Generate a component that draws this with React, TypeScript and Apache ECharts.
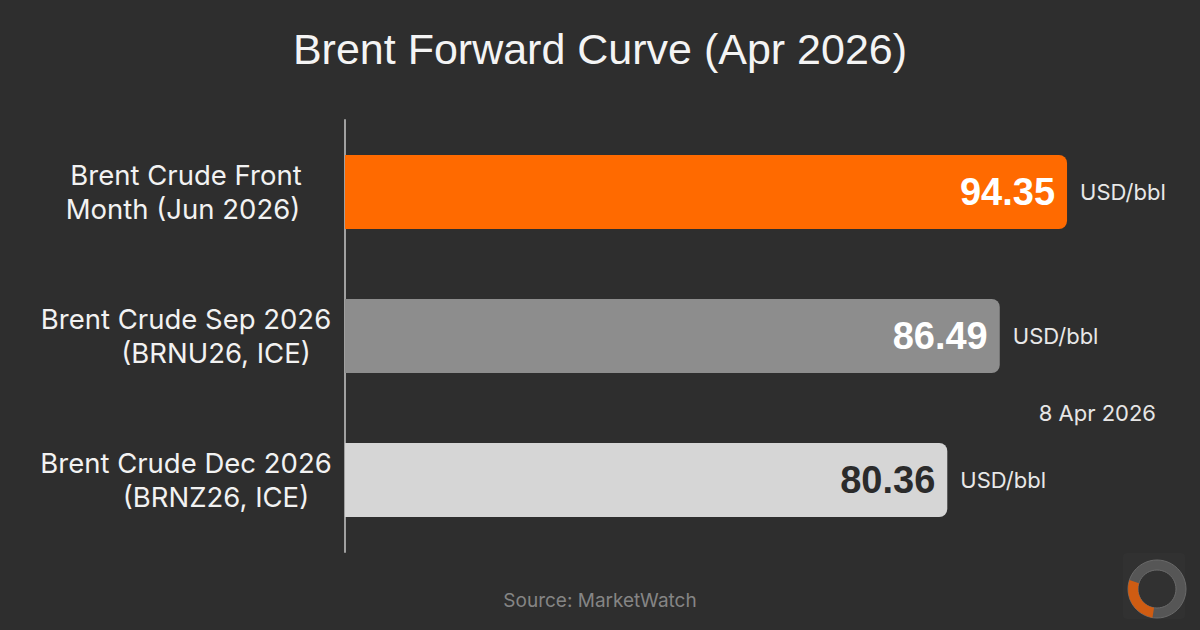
import React, { useEffect, useRef } from "react";
import * as echarts from "echarts";

const categories = [
  "Brent Crude Front\nMonth (Jun 2026)",
  "Brent Crude Sep 2026\n(BRNU26, ICE)",
  "Brent Crude Dec 2026\n(BRNZ26, ICE)",
];
const prices = [94.35, 86.49, 80.36];
const barColors = ["#ff6a00", "#8d8d8d", "#d6d6d6"];
const valueLabelColors = ["#ffffff", "#ffffff", "#2b2b2b"];
const unitLabel = "USD/bbl";
const titleText = "Brent Forward Curve (Apr 2026)";
const dateText = "8 Apr 2026";
const sourceText = "Source: MarketWatch";

export default function App() {
  const ref = useRef<HTMLDivElement>(null);

  useEffect(() => {
    if (!ref.current) return;
    const chart = echarts.init(ref.current, undefined, { renderer: "svg" });
    const font = "Inter, 'Liberation Sans', Arial, sans-serif";
    const labelText = { color: "#f2f2f2", fontSize: 27.5, lineHeight: 34, fontFamily: font };
    const option: any = {
      animation: false,
      backgroundColor: "#2e2e2e",
      title: [
        {
          text: titleText,
          left: "center",
          top: 22,
          textStyle: {
            color: "#f4f4f4",
            fontSize: 43,
            fontWeight: "normal",
            fontFamily: "'Liberation Sans', Arial, sans-serif",
          },
        },
        {
          text: dateText,
          right: 39,
          top: 397,
          textStyle: { color: "#e6e6e6", fontSize: 22, fontWeight: "normal", fontFamily: font },
        },
        {
          text: sourceText,
          left: "center",
          top: 586,
          textStyle: { color: "#858585", fontSize: 19, fontWeight: "normal", fontFamily: font },
        },
      ],
      grid: { left: 345, top: 120, height: 432, right: 84.6 },
      xAxis: {
        type: "value",
        min: 10,
        max: 100,
        show: false,
        splitLine: { show: false },
      },
      yAxis: {
        type: "category",
        inverse: true,
        data: categories,
        axisLine: { show: true, lineStyle: { color: "#a0a0a0", width: 2 } },
        axisTick: { show: false },
        axisLabel: {
          align: "center",
          margin: 159,
          ...labelText,
          formatter: (value: string, idx: number) => {
            const [l1, l2] = value.split("\n");
            if (idx === 0) return `{a|${l1}}\n{c|${l2}}`;
            return `{a|${l1}}\n{b|${l2}}`;
          },
          rich: {
            a: { ...labelText },
            b: { ...labelText, padding: [0, 0, 0, 60] },
            c: { ...labelText, padding: [0, 6, 0, 0] },
          },
        },
      },
      series: [
        {
          type: "bar",
          barWidth: 74,
          z: 3,
          data: prices.map((v, i) => ({
            value: v,
            itemStyle: { color: barColors[i], borderRadius: [0, 8, 8, 0] },
            label: { color: valueLabelColors[i] },
          })),
          label: {
            show: true,
            position: "insideRight",
            distance: 12,
            fontSize: 38,
            fontWeight: "bold",
            fontFamily: "'Liberation Sans', Arial, sans-serif",
            formatter: (p: any) => p.value.toFixed(2),
          },
        },
        {
          type: "bar",
          barWidth: 74,
          barGap: "-100%",
          z: 2,
          silent: true,
          data: prices,
          itemStyle: { color: "transparent" },
          label: {
            show: true,
            position: "right",
            distance: 13,
            color: "#e8e8e8",
            fontSize: 22,
            fontFamily: font,
            formatter: () => unitLabel,
          },
        },
      ],
      graphic: [
        {
          type: "rect",
          shape: { x: 1123, y: 553, width: 62, height: 66, r: 4 },
          style: { fill: "#313131" },
        },
        {
          type: "ring",
          shape: { cx: 1157, cy: 589, r: 29, r0: 19 },
          style: { fill: "#565656", stroke: "#6a6a6a", lineWidth: 1 },
        },
        {
          type: "sector",
          shape: {
            cx: 1157,
            cy: 589,
            r: 29,
            r0: 19,
            startAngle: Math.PI * 0.55,
            endAngle: Math.PI * 1.1,
            clockwise: true,
          },
          style: { fill: "#cf5c12" },
        },
      ],
    };
    chart.setOption(option);
    return () => chart.dispose();
  }, []);

  return (
    <div
      ref={ref}
      style={{ position: "fixed", left: 0, top: 0, width: 1200, height: 630 }}
    />
  );
}
